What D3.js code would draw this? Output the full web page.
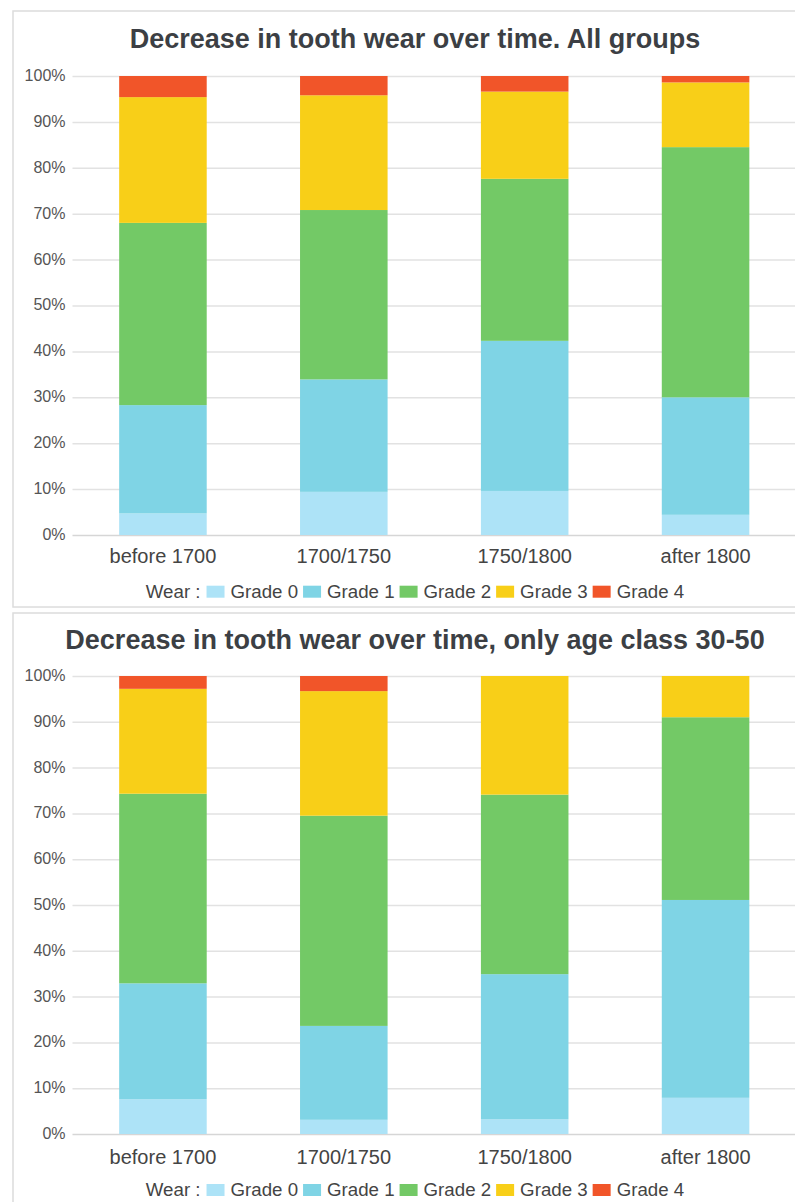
<!DOCTYPE html>
<html lang="en">
<head>
    <meta charset="UTF-8">
    <title>Decrease in tooth wear over time</title>
    <script src="https://d3js.org/d3.v7.min.js"></script>
    <style>
        body { margin: 0; background: #fff; }
        text { font-family: "Liberation Sans", Arial, Helvetica, sans-serif; }
        .title { font-weight: bold; font-size: 27px; fill: #3c3f44; }
        .axis-y text { font-size: 16px; fill: #555; }
        .axis-x text { font-size: 20px; fill: #444; }
        .legend text { font-size: 18.7px; fill: #444; }
        .card { fill: #fff; stroke: #dcdcdc; stroke-width: 1.5; }
    </style>
</head>
<body>
    <svg id="chart"></svg>

    <script>
        // categories and series (percent of individuals per wear grade)
        var categories = ["before 1700", "1700/1750", "1750/1800", "after 1800"];
        var grades = ["Grade 0", "Grade 1", "Grade 2", "Grade 3", "Grade 4"];
        var gradeColors = ["#ade3f7", "#7fd4e5", "#73c966", "#f8cf18", "#f15529"];
        var yTicks = [0, 10, 20, 30, 40, 50, 60, 70, 80, 90, 100];

        // chart 1: all groups
        var allGrade0 = [4.7, 9.4, 9.6, 4.4];
        var allGrade1 = [23.6, 24.5, 32.7, 25.6];
        var allGrade2 = [39.7, 36.9, 35.3, 54.5];
        var allGrade3 = [27.4, 25.0, 19.0, 14.1];
        var allGrade4 = [4.6, 4.2, 3.4, 1.4];

        // chart 2: only age class 30-50
        var ageGrade0 = [7.6, 3.1, 3.2, 7.9];
        var ageGrade1 = [25.3, 20.5, 31.7, 43.2];
        var ageGrade2 = [41.4, 45.9, 39.2, 39.9];
        var ageGrade3 = [22.9, 27.2, 25.9, 9.0];
        var ageGrade4 = [2.8, 3.3, 0, 0];

        var width = 795;
        var height = 1202;

        var svg = d3.select("#chart")
                    .attr("width", width)
                    .attr("height", height);

        function rowsFrom(series) {
            return categories.map(function(c, i) {
                var row = { category: c };
                grades.forEach(function(g, j) { row[g] = series[j][i]; });
                return row;
            });
        }

        var charts = [
            {
                title: "Decrease in tooth wear over time. All groups",
                series: [allGrade0, allGrade1, allGrade2, allGrade3, allGrade4],
                cardTop: 11, cardBottom: 607,
                titleY: 48, plotTop: 76, plotBottom: 535,
                xLabelY: 562.7, legendY: 597.7
            },
            {
                title: "Decrease in tooth wear over time, only age class 30-50",
                series: [ageGrade0, ageGrade1, ageGrade2, ageGrade3, ageGrade4],
                cardTop: 613, cardBottom: 1230,
                titleY: 649.3, plotTop: 676, plotBottom: 1134,
                xLabelY: 1164.3, legendY: 1196
            }
        ];

        var left = 72.5, right = 796, center = 415;

        var xScale = d3.scaleBand()
                       .domain(categories)
                       .range([left, right])
                       .paddingInner(0.516)
                       .paddingOuter(0.258);

        var color = d3.scaleOrdinal().domain(grades).range(gradeColors);

        charts.forEach(function(ch) {
            var g = svg.append("g");

            // card frame
            g.append("rect")
             .attr("class", "card")
             .attr("x", 13)
             .attr("y", ch.cardTop)
             .attr("width", 830)
             .attr("height", ch.cardBottom - ch.cardTop);

            g.append("text")
             .attr("class", "title")
             .attr("x", center)
             .attr("y", ch.titleY)
             .attr("text-anchor", "middle")
             .text(ch.title);

            var yScale = d3.scaleLinear()
                           .domain([0, 100])
                           .range([ch.plotBottom, ch.plotTop]);

            // y axis with gridlines
            var yAxis = g.append("g")
               .attr("class", "axis-y")
               .attr("transform", "translate(" + left + ",0)")
               .call(d3.axisLeft(yScale)
                       .tickValues(yTicks)
                       .tickSize(-(width + 10 - left))
                       .tickPadding(7)
                       .tickFormat(function(d) { return d + "%"; }));
            yAxis.select(".domain").remove();
            yAxis.selectAll(".tick line")
                 .attr("stroke", function(d) { return d === 0 ? "#d6d6d6" : "#e2e2e2"; })
                 .attr("stroke-width", 1.5);
            yAxis.selectAll(".tick text").attr("dy", "0.28em");

            // stacked bars
            var stacked = d3.stack().keys(grades)(rowsFrom(ch.series));

            g.selectAll(".layer")
             .data(stacked)
             .enter().append("g")
             .attr("class", "layer")
             .attr("fill", function(d) { return color(d.key); })
             .selectAll("rect")
             .data(function(d) { return d; })
             .enter().append("rect")
             .attr("x", function(d) { return xScale(d.data.category); })
             .attr("width", xScale.bandwidth())
             .attr("y", function(d) { return yScale(d[1]); })
             .attr("height", function(d) { return yScale(d[0]) - yScale(d[1]); });

            // x axis labels
            var xAxis = g.append("g")
               .attr("class", "axis-x")
               .attr("transform", "translate(0," + ch.plotBottom + ")")
               .call(d3.axisBottom(xScale).tickSize(0).tickPadding(ch.xLabelY - ch.plotBottom - 14.2));
            xAxis.select(".domain").remove();

            // legend
            var legend = g.append("g").attr("class", "legend");
            var cx = 0;
            var lead = legend.append("text")
                             .attr("x", cx)
                             .attr("y", ch.legendY)
                             .text("Wear :");
            cx += lead.node().getComputedTextLength() + 6;
            grades.forEach(function(gr) {
                legend.append("rect")
                      .attr("x", cx)
                      .attr("y", ch.legendY - 12)
                      .attr("width", 18)
                      .attr("height", 12)
                      .attr("fill", color(gr));
                cx += 24;
                var t = legend.append("text")
                              .attr("x", cx)
                              .attr("y", ch.legendY)
                              .text(gr);
                cx += t.node().getComputedTextLength() + 5;
            });
            cx -= 5;
            legend.attr("transform", "translate(" + (center - cx / 2) + ",0)");
        });
    </script>
</body>
</html>
